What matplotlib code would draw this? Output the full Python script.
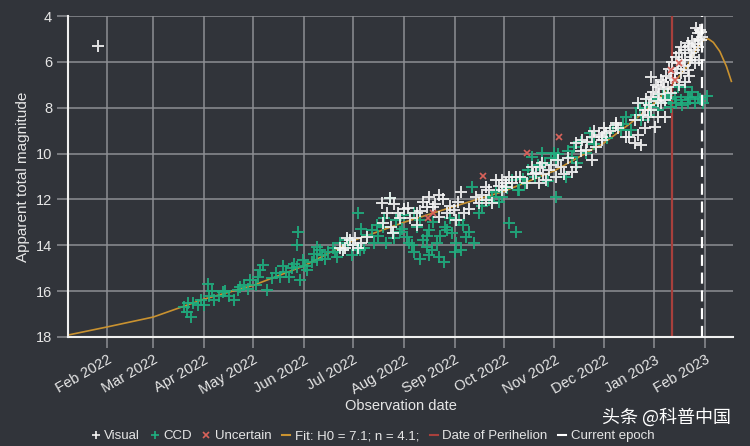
import numpy as np
import pandas as pd
import matplotlib
matplotlib.use("Agg")
import matplotlib.pyplot as plt
import matplotlib.dates as mdates
from matplotlib.lines import Line2D

plt.rcParams['font.family'] = ['Liberation Sans', 'DejaVu Sans']

# ---- data: day offsets from 2022-01-01 and apparent magnitudes ----
ccd_day = [77.8, 79.6, 82.0, 83.2, 86.3, 89.9, 92.3, 92.9, 96.0, 99.0, 101.4, 105.1, 108.1, 110.5,
           114.2, 118.4, 121.5, 124.5, 126.3, 128.8, 131.8, 136.7, 140.3, 143.9, 147.0, 148.8,
           147.6, 147.0, 150.6, 153.0, 156.1, 159.1, 159.1, 162.2, 165.8, 168.8, 171.3, 174.9,
           177.9, 184.0, 185.2, 180.4,
           80, 88, 95, 103, 112, 117, 123, 134, 138, 142, 145, 152, 157, 161, 164, 170, 173,
           177.3, 183.4, 192.5, 203.4, 199.2, 205.3, 213.8, 219.8, 223.5, 225.9, 232.0, 233.8,
           241.7, 244.1, 250.2, 238.1, 227.7, 221.7, 253.8, 258.1, 264.2, 276.3, 280.6, 268.4,
           278.1, 236.8, 247.2, 227.7, 216.8, 209.5, 252.0, 255.1, 189.5, 195.6, 207.0, 212.0,
           218.0, 230.0, 240.0, 246.0, 260.0, 270.0, 282.0, 286.0,
           196, 201, 206, 211, 215, 218, 222, 226, 229, 234, 237, 243, 248, 200, 194, 188, 186,
           282.4, 290.3, 296.3, 303.6, 304.8, 304.8, 314.6, 310.9, 323.1, 344.9, 300.0, 292.0,
           318.0, 328.0, 336.0,
           266, 272, 275, 285, 288, 294, 298, 302, 306, 312, 316, 320, 326,
           347.4, 351.0, 357.1, 363.1, 367.4, 371.6, 377.7, 381.4, 385.6, 379.5, 383.8, 375.3,
           385.6, 391.7, 394.5, 397.0, 388.0, 373.0,
           340, 346, 354, 356, 360, 362, 366, 370, 374, 378, 382, 387, 390, 393]
ccd_mag = [16.69, 16.91, 17.13, 16.52, 16.60, 16.60, 15.69, 16.21, 16.39, 16.21, 16.04, 16.21, 16.39, 15.95,
           15.73, 15.51, 15.73, 15.08, 14.86, 15.95, 15.43, 15.38, 15.16, 14.99, 14.95, 15.51,
           13.42, 13.99, 14.64, 15.08, 14.73, 14.64, 14.07, 14.42, 14.29, 14.12, 14.51, 14.20,
           13.99, 12.59, 14.20, 14.42,
           16.5, 16.4, 16.0, 16.0, 15.8, 15.9, 15.4, 15.2, 14.9, 15.4, 14.8, 14.9, 14.4, 14.2, 14.6, 14.3, 13.9,
           13.77, 14.20, 13.33, 11.94, 13.20, 13.46, 13.64, 13.20, 13.77, 14.07, 13.90, 14.51,
           13.46, 13.90, 13.64, 13.33, 13.33, 12.90, 11.46, 12.59, 12.02, 13.03, 13.42, 11.68,
           11.15, 14.73, 14.20, 14.42, 13.99, 13.42, 13.42, 13.90, 13.55, 13.10, 12.90, 12.70,
           12.60, 13.00, 12.80, 12.90, 12.30, 12.10, 11.60, 11.30,
           13.6, 13.9, 13.7, 13.3, 13.9, 14.3, 14.6, 13.6, 14.2, 13.6, 13.2, 14.3, 13.1, 12.8, 13.9, 14.1, 13.3,
           11.59, 10.15, 9.97, 9.97, 11.89, 10.28, 10.15, 11.02, 9.97, 8.97, 11.20, 11.00,
           10.40, 9.60, 9.30,
           11.9, 11.9, 11.5, 11.1, 10.7, 10.5, 10.4, 10.2, 10.0, 9.9, 9.7, 9.5, 9.1,
           8.40, 8.97, 8.54, 7.97, 8.10, 7.79, 7.53, 7.66, 7.53, 7.10, 7.10, 7.97,
           7.79, 7.53, 7.79, 7.49, 7.30, 7.40,
           8.9, 8.7, 8.3, 8.0, 7.8, 8.3, 7.6, 7.4, 7.6, 7.8, 7.9, 7.6, 7.8, 7.6]

vis_day = [25.5,
           173.1, 179.2, 182.2, 184.0, 189.5, 177.3, 174.9, 186, 181, 176,
           198.6, 203.4, 201.6, 199.2, 208.3, 205.3, 214.4, 215.6, 219.8, 227.7, 233.8, 229.6,
           233.8, 238.1, 242.9, 247.2, 244.1, 225.9,
           206, 210, 212, 222, 224, 231, 236, 240, 245, 249, 220, 204,
           262.3, 268.4, 272.1, 262.3, 266.0, 274.5, 280.6, 258.1, 272.1, 274.5, 252.0, 256.0,
           260, 264, 270, 276, 278, 283,
           290.3, 292.7, 296.3, 300.6, 298.8, 304.8, 294.5, 317.0, 314.6, 287.0, 310.0,
           291, 295, 297, 302, 306, 308, 312,
           317.0, 320.6, 326.7, 330.9, 332.8, 329.1, 326.7, 323.1, 341.3, 347.4, 332.8, 335.2,
           320, 324, 328, 334, 338, 343,
           341.3, 349.2, 353.4, 357.1, 353.4, 355.3, 359.5, 363.1, 367.4, 363.1, 369.2, 371.6,
           365.6, 367.4, 361.3, 369.2, 373.5, 377.7, 381.4, 385.6, 383.8, 387.4, 391.7, 393.5,
           391.7, 389.9, 385.6, 381.4, 377.7, 379.5, 390.5, 393.5, 375.3, 371.6, 388.0, 386.0,
           392.0, 394.0, 380.0, 384.0,
           358, 360, 362, 364, 366, 368, 370, 372, 374, 376, 378, 380, 382, 384, 386, 388, 390,
           392, 393, 389, 387, 383, 379, 375, 371, 367, 363, 359, 355]
vis_mag = [5.30,
           14.12, 13.77, 13.68, 14.12, 13.64, 13.68, 14.20, 13.9, 14.0, 14.1,
           12.16, 11.94, 12.59, 13.03, 12.59, 13.46, 12.37, 12.81, 12.59, 11.89, 11.81, 12.33,
           12.77, 12.59, 12.46, 11.68, 12.90, 12.33,
           12.2, 12.8, 12.4, 12.5, 12.1, 12.2, 12.0, 12.3, 12.1, 12.6, 13.1, 13.2,
           11.46, 11.15, 11.59, 12.02, 12.16, 11.28, 11.02, 12.16, 11.15, 11.46, 12.40, 11.90,
           11.8, 11.6, 11.4, 11.0, 11.3, 11.0,
           10.59, 10.85, 10.41, 10.72, 11.15, 11.02, 11.28, 10.59, 10.80, 11.30, 10.90,
           10.9, 10.6, 10.9, 10.5, 10.3, 10.6, 10.2,
           9.54, 9.41, 9.28, 9.19, 9.41, 9.71, 10.28, 9.84, 8.75, 9.28, 9.28, 9.10,
           9.9, 9.5, 9.0, 8.9, 9.0, 8.9,
           8.67, 9.28, 9.54, 9.63, 8.54, 7.79, 8.10, 6.66, 7.10, 7.53, 7.79, 8.40,
           8.84, 8.40, 8.40, 6.79, 7.10, 6.49, 5.35, 5.18, 5.92, 5.61, 4.74, 5.05,
           5.35, 6.05, 6.36, 6.49, 6.79, 6.05, 4.52, 4.70, 7.36, 7.66, 5.80, 6.60,
           5.90, 4.90, 7.00, 6.90,
           8.3, 7.6, 7.9, 7.3, 7.0, 7.4, 6.9, 6.6, 6.3, 6.0, 5.8, 5.6, 5.9, 5.5, 5.3, 5.1, 5.2,
           5.0, 4.6, 5.5, 5.9, 6.2, 6.3, 6.7, 7.2, 7.7, 8.1, 8.9, 9.2]

unc_day = [287.2, 306.7, 260.5, 229.6, 227.0, 375.3, 377.7, 380.0]
unc_mag = [9.97, 9.28, 10.98, 12.59, 12.80, 6.36, 6.79, 6.05]

fit_day = [8, 31, 59, 90, 120, 151, 181, 212, 243, 273, 304, 334, 350, 365, 376, 385,
           391, 395, 398, 401, 405, 409, 412]
fit_mag = [17.90, 17.56, 17.13, 16.35, 15.75, 14.90, 13.80, 13.00, 12.30, 11.65, 10.75, 9.55,
           8.70, 7.80, 7.00, 6.20, 5.40, 5.05, 5.00, 5.15, 5.55, 6.20, 6.85]

perihelion = "2023-01-12"
current_epoch = "2023-01-30"
x_start, x_end = "2022-01-08", "2023-02-18"
month_ticks = pd.date_range("2022-02-01", "2023-02-01", freq="MS")

base = pd.Timestamp("2022-01-01")
to_date = lambda d: base + pd.to_timedelta(np.asarray(d, dtype=float), unit="D")

BG = '#31343a'
GRID = '#8d8f93'
TXT = '#e6e6e6'
GREEN = '#1fae7f'
RED = '#d9625a'
ORANGE = '#c99230'

fig = plt.figure(figsize=(7.5, 4.46), dpi=100, facecolor=BG)
ax = fig.add_axes([68/750, 1-337/446, (733-68)/750, (337-16)/446])
ax.set_facecolor(BG)

ax.plot(to_date(fit_day), fit_mag, color=ORANGE, lw=1.2, zorder=2)
ax.plot(to_date(ccd_day), ccd_mag, '+', color=GREEN, ms=8.5, mew=1.4, alpha=0.9, zorder=3)
ax.plot(to_date(vis_day), vis_mag, '+', color='#f4f4f4', ms=8.5, mew=1.4, alpha=0.9, zorder=4)
ax.plot(to_date(unc_day), unc_mag, 'x', color=RED, ms=5, mew=1.2, zorder=5)
ax.axvline(pd.Timestamp(perihelion), color='#a8403c', lw=1.6, zorder=2)
ax.axvline(pd.Timestamp(current_epoch), color='white', lw=1.6, ls=(0, (5, 3)), zorder=6)

ax.set_xlim(pd.Timestamp(x_start), pd.Timestamp(x_end))
ax.set_ylim(18, 4)
ax.set_yticks(np.arange(4, 19, 2))
ax.set_xticks(month_ticks)
ax.xaxis.set_major_formatter(mdates.DateFormatter('%b %Y'))
ax.grid(True, color=GRID, lw=1.1)
ax.set_axisbelow(True)
for s in ['top', 'right']:
    ax.spines[s].set_visible(False)
for s in ['left', 'bottom']:
    ax.spines[s].set_color('#f0f0f0')
    ax.spines[s].set_linewidth(1.5)
ax.tick_params(axis='both', colors=GRID, length=8, width=1.1, labelcolor=TXT, labelsize=10.5)
plt.setp(ax.get_xticklabels(), rotation=30, ha='right', rotation_mode='anchor')

ax.set_ylabel('Apparent total magnitude', color=TXT, fontsize=11, labelpad=4)
ax.set_xlabel('Observation date', color=TXT, fontsize=10.5, labelpad=1)

handles = [
    Line2D([], [], ls='none', marker='+', color='#f4f4f4', ms=6, mew=1.2),
    Line2D([], [], ls='none', marker='+', color=GREEN, ms=6, mew=1.2),
    Line2D([], [], ls='none', marker='x', color=RED, ms=4.5, mew=1.2),
    Line2D([], [], color=ORANGE, lw=1.5),
    Line2D([], [], color='#a8403c', lw=1.5),
    Line2D([], [], color='white', lw=1.5),
]
labels = ['Visual', 'CCD', 'Uncertain', 'Fit: H0 = 7.1; n = 4.1;', 'Date of Perihelion', 'Current epoch']
fig.legend(handles, labels, loc='center', bbox_to_anchor=(373/750, 1-436/446), ncol=6,
           frameon=False, fontsize=9.5, labelcolor=TXT, handlelength=0.6,
           handletextpad=0.35, columnspacing=0.8)

fig.text(666/750, 1-417/446, '头条 @科普中国', color='white', fontsize=13,
         family=['Noto Sans CJK SC', 'DejaVu Sans'], ha='center', va='center')

fig.savefig('out.png', dpi=100, facecolor=BG)
